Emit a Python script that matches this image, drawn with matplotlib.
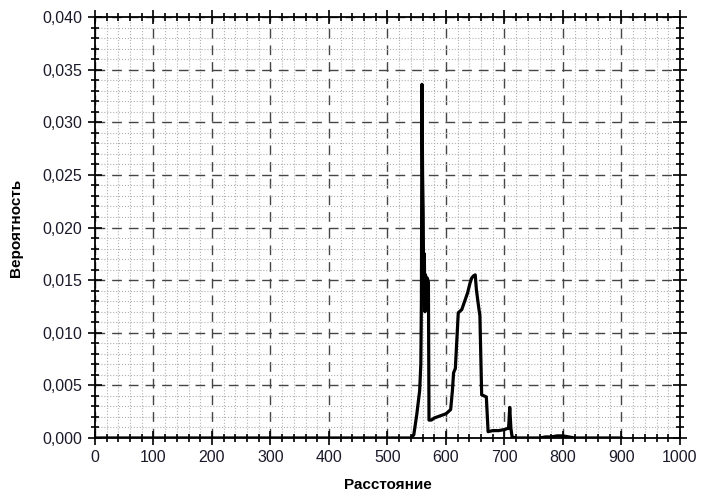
import numpy as np
import matplotlib.pyplot as plt
from matplotlib.ticker import MultipleLocator, FuncFormatter

plt.rcParams['font.family'] = ['Liberation Sans', 'DejaVu Sans']

# данные
distance = [0, 540, 545, 550, 555, 557, 558, 559, 560, 561, 562, 563, 564,
            565, 566, 567, 568, 569, 570, 571, 575, 580, 585, 590, 600, 608,
            611, 613, 616, 618, 621, 627, 632, 637, 641, 644, 647, 650, 652,
            655, 658, 661, 665, 669, 672, 680, 690, 700, 705, 707, 709, 711,
            713, 720, 760, 770, 780, 790, 800, 810, 820, 900]
probability = [0.0, 0.0, 0.0003, 0.0022, 0.0045, 0.0070, 0.0130, 0.0336,
               0.0250, 0.0215, 0.0129, 0.0175, 0.0120, 0.0155, 0.0148, 0.0140,
               0.0152, 0.0150, 0.0148, 0.0017, 0.0017, 0.0019, 0.0020, 0.0021,
               0.0023, 0.0027, 0.0045, 0.0062, 0.0066, 0.0087, 0.0119, 0.0122,
               0.0130, 0.0138, 0.0147, 0.0152, 0.0154, 0.0155, 0.0141, 0.0128,
               0.0116, 0.0041, 0.0040, 0.0039, 0.0006, 0.0007, 0.0007, 0.0008,
               0.0009, 0.0009, 0.0029, 0.0009, 0.0001, 0.0000, 0.0000, 0.0001,
               0.0001, 0.0002, 0.0002, 0.0001, 0.0000, 0.0000]

fig = plt.figure(figsize=(7.01, 4.92), dpi=100)
ax = fig.add_axes([0.1355, 0.1098, 0.8345, 0.8556])

ax.plot(distance, probability, color='black', lw=2.3, zorder=3)

ax.set_xlim(0, 1000)
ax.set_ylim(0, 0.04)
ax.xaxis.set_major_locator(MultipleLocator(100))
ax.xaxis.set_minor_locator(MultipleLocator(20))
ax.yaxis.set_major_locator(MultipleLocator(0.005))
ax.yaxis.set_minor_locator(MultipleLocator(0.001))
ax.yaxis.set_major_formatter(FuncFormatter(lambda v, p: f"{v:.3f}".replace('.', ',')))

ax.grid(which='major', color='#454545', ls=(0, (7, 5)), lw=1.0)
ax.grid(which='minor', color='#b0b0b0', ls=':', lw=0.8)

ax.tick_params(which='both', direction='inout', top=True, right=True,
               labelsize=11.5, labelcolor='#1a1a2a', width=1.2)
ax.tick_params(which='major', length=10, pad=4)
ax.tick_params(which='minor', length=6)
for s in ax.spines.values():
    s.set_linewidth(1.3)

ax.set_xlabel("Расстояние", fontsize=11, fontweight='bold', labelpad=9)
ax.set_ylabel("Вероятность", fontsize=11, fontweight='bold', labelpad=14)

fig.savefig("out.png", dpi=100)
